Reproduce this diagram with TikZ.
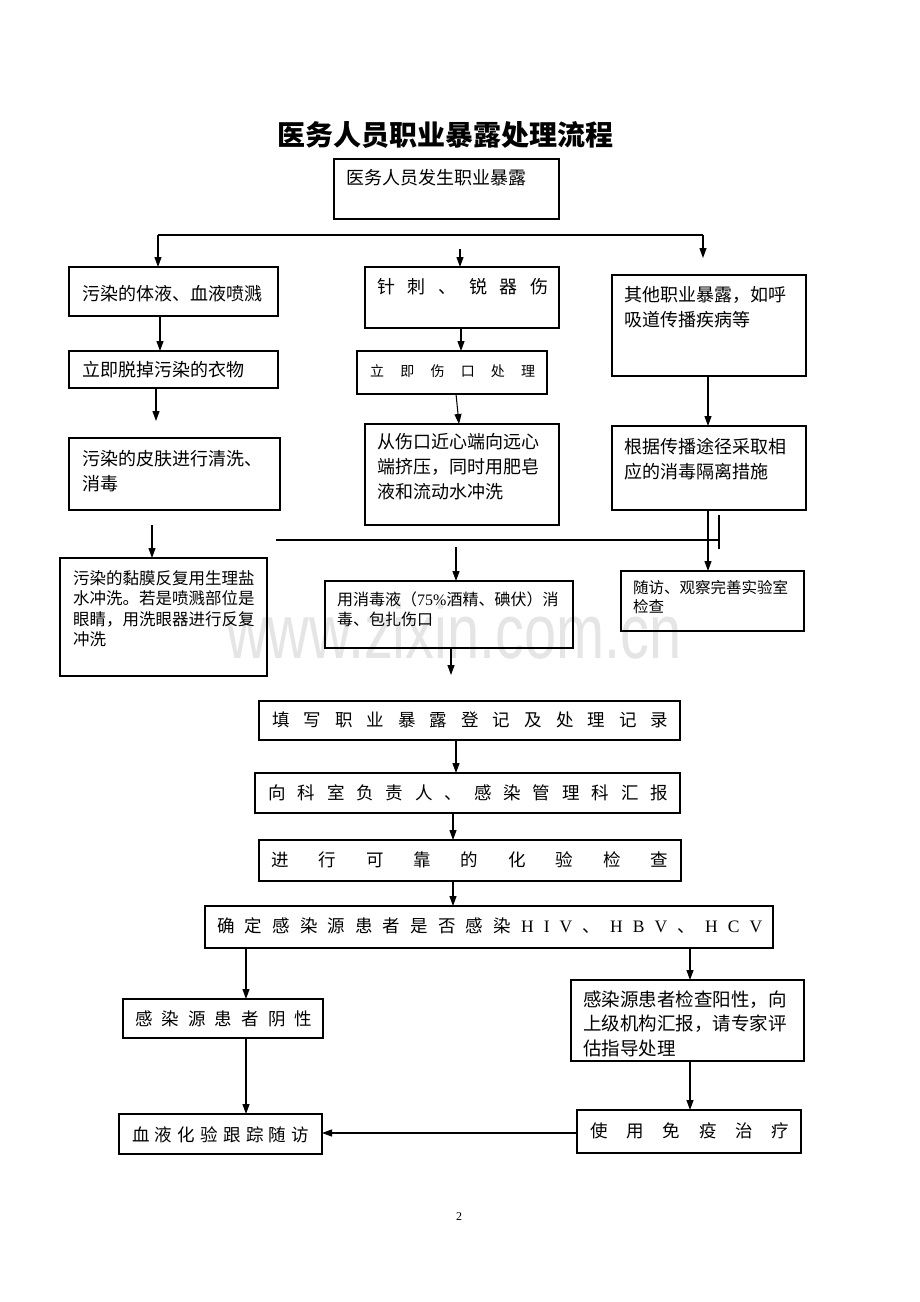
\documentclass[tikz,border=0pt]{standalone}
\usepackage{fontspec}
\setmainfont{Noto Sans CJK SC}
\newfontfamily\lat{Liberation Serif}
\newfontfamily\wmfont{Liberation Sans}
\usetikzlibrary{arrows.meta}
\newcommand{\spr}[2]{\makebox[#1][s]{#2}}
\newcommand{\mkbox}[5]{\node[box, minimum width={(#4-#2)*1pt}, minimum height={(#5-#3)*1pt}] (#1) at ({(#2+#4)/2},{(#3+#5)/2}) {};}
\begin{document}
\begin{tikzpicture}[x=1pt,y=-1pt,
  box/.style={draw, line width=1.1pt, inner sep=0pt, outer sep=0pt},
  tA/.style={font=\fontsize{18}{25}\selectfont, inner sep=0pt, align=left},
  tB/.style={font=\fontsize{17.5}{24}\selectfont, inner sep=0pt},
  tC/.style={font=\fontsize{16.5}{20.3}\selectfont, inner sep=0pt, align=left},
  tD/.style={font=\fontsize{15.5}{19.5}\selectfont, inner sep=0pt, align=left},
  ln/.style={line width=1.05pt},
  arr/.style={line width=1.05pt, -{Triangle[length=10pt,width=7pt]}}]
\fill[white] (0,0) rectangle (920,1302);
\useasboundingbox (0,0) rectangle (920,1302);

% watermark
\node[font=\wmfont\fontsize{77}{77}\selectfont, text=black!10, anchor=base, inner sep=0pt] (wm) at (454,658) {\scalebox{0.75}[1]{www.zixin.com.cn}};

% title
\node[font=\bfseries\fontsize{28}{28}\selectfont, inner sep=0pt] (title) at (445,135) {医务人员职业暴露处理流程};

% boxes
\mkbox{B0}{334}{159}{559}{219}
\mkbox{L1}{69}{267}{278}{316}
\mkbox{M1}{365}{267}{559}{328}
\mkbox{R1}{612}{275}{806}{376}
\mkbox{L2}{69}{351}{278}{388}
\mkbox{M2}{357}{351}{547}{394}
\mkbox{L3}{69}{438}{280}{510}
\mkbox{M3}{365}{424}{559}{525}
\mkbox{R2}{612}{426}{806}{510}
\mkbox{L4}{60}{558}{267}{676}
\mkbox{M4}{325}{581}{573}{648}
\mkbox{R3}{621}{571}{804}{631}
\mkbox{Q1}{259}{701}{680}{740}
\mkbox{Q2}{255}{773}{680}{813}
\mkbox{Q3}{259}{840}{681}{881}
\mkbox{Q4}{205}{906}{773}{948}
\mkbox{N}{123}{999}{323}{1038}
\mkbox{P}{571}{980}{804}{1061}
\mkbox{F}{119}{1114}{322}{1154}
\mkbox{I}{577}{1110}{801}{1153}

% texts
\node[tA, anchor=west] (B0t) at (346,178) {医务人员发生职业暴露};
\node[tA, anchor=west] (L1t) at (82,294) {污染的体液、血液喷溅};
\node[tA, anchor=west] (M1t) at (377,287) {\spr{171pt}{针 刺 、 锐 器 伤}};
\node[tA, anchor=north west] (R1t) at (624,286) {其他职业暴露，如呼\\吸道传播疾病等};
\node[tA, anchor=west] (L2t) at (82,370) {立即脱掉污染的衣物};
\node[font=\fontsize{14}{14}\selectfont, inner sep=0pt, anchor=west] (M2t) at (370,371) {\spr{165pt}{立 即 伤 口 处 理}};
\node[tA, anchor=north west] (L3t) at (82,450) {污染的皮肤进行清洗、\\消毒};
\node[tA, anchor=north west] (M3t) at (377,433) {从伤口近心端向远心\\端挤压，同时用肥皂\\液和流动水冲洗};
\node[tA, anchor=north west] (R2t) at (624,438) {根据传播途径采取相\\应的消毒隔离措施};
\node[tC, anchor=north west] (L4t) at (73,570.5) {污染的黏膜反复用生理盐\\水冲洗。若是喷溅部位是\\眼睛，用洗眼器进行反复\\冲洗};
\node[font=\fontsize{16}{20}\selectfont, inner sep=0pt, align=left, anchor=north west] (M4t) at (337,591.5) {用消毒液（{\lat 75\%}酒精、碘伏）消\\毒、包扎伤口};
\node[tD, anchor=north west] (R3t) at (633,580) {随访、观察完善实验室\\检查};
\node[tB, anchor=west] (Q1t) at (272,720) {\spr{396pt}{填 写 职 业 暴 露 登 记 及 处 理 记 录}};
\node[tB, anchor=west] (Q2t) at (268,793) {\spr{400pt}{向 科 室 负 责 人 、 感 染 管 理 科 汇 报}};
\node[tB, anchor=west] (Q3t) at (271,860) {\spr{397pt}{进 行 可 靠 的 化 验 检 查}};
\node[tB, anchor=west] (Q4t) at (217,926) {\spr{545pt}{确 定 感 染 源 患 者 是 否 感 染 {\lat H} {\lat I} {\lat V} 、 {\lat H} {\lat B} {\lat V} 、 {\lat H} {\lat C} {\lat V}}};
\node[tB, anchor=west] (Nt) at (135,1019) {\spr{177pt}{感 染 源 患 者 阴 性}};
\node[font=\fontsize{18.5}{24.5}\selectfont, inner sep=0pt, align=left, anchor=north west] (Pt) at (583,990.5) {感染源患者检查阳性，向\\上级机构汇报，请专家评\\估指导处理};
\node[tB, anchor=west] (Ft) at (132,1135) {\spr{177pt}{血 液 化 验 跟 踪 随 访}};
\node[tB, anchor=west] (It) at (590,1131) {\spr{199pt}{使 用 免 疫 治 疗}};

% page number
\node[font=\lat\fontsize{12}{12}\selectfont, inner sep=0pt] (pg) at (459,1217) {2};

% coordinates
\coordinate (tl) at (158,235);
\coordinate (tr) at (703,235);
\coordinate (trE) at (703,258);
\coordinate (tm) at (460,249);
\coordinate (x160) at (160,0);
\coordinate (c2e) at (156,421);
\coordinate (c3s) at (152,525);
\coordinate (x461) at (461,0);
\coordinate (x456) at (456,0);
\coordinate (x459) at (459,0);
\coordinate (x708) at (708,0);
\coordinate (hl) at (276,540);
\coordinate (hr) at (719,540);
\coordinate (tk1) at (719,515);
\coordinate (tk2) at (719,549);
\coordinate (m4s) at (456,547);
\coordinate (m4e) at (451,675);
\coordinate (x453) at (453,0);
\coordinate (x246) at (246,0);
\coordinate (x690) at (690,0);
\coordinate (yb) at (0,1133);

% connectors
\draw[ln] (tl) -- (tr);
\draw[arr] (tl) -- (L1.north -| tl);
\draw[arr] (tr) -- (trE);
\draw[arr] (tm) -- (M1.north -| tm);
\draw[arr] (L1.south -| x160) -- (L2.north -| x160);
\draw[arr] (L2.south -| c2e) -- (c2e);
\draw[arr] (c3s) -- (L4.north -| c3s);
\draw[arr] (M1.south -| x461) -- (M2.north -| x461);
\draw[arr] (M2.south -| x456) -- (M3.north -| x459);
\draw[arr] (R1.south -| x708) -- (R2.north -| x708);
\draw[arr] (R2.south -| x708) -- (R3.north -| x708);
\draw[ln] (hl) -- (hr);
\draw[ln] (tk1) -- (tk2);
\draw[arr] (m4s) -- (M4.north -| m4s);
\draw[arr] (M4.south -| m4e) -- (m4e);
\draw[arr] (Q1.south -| x456) -- (Q2.north -| x456);
\draw[arr] (Q2.south -| x453) -- (Q3.north -| x453);
\draw[arr] (Q3.south -| x453) -- (Q4.north -| x453);
\draw[arr] (Q4.south -| x246) -- (N.north -| x246);
\draw[arr] (Q4.south -| x690) -- (P.north -| x690);
\draw[arr] (N.south -| x246) -- (F.north -| x246);
\draw[arr] (P.south -| x690) -- (I.north -| x690);
\draw[arr] (I.west |- yb) -- (F.east |- yb);
\end{tikzpicture}
\end{document}
